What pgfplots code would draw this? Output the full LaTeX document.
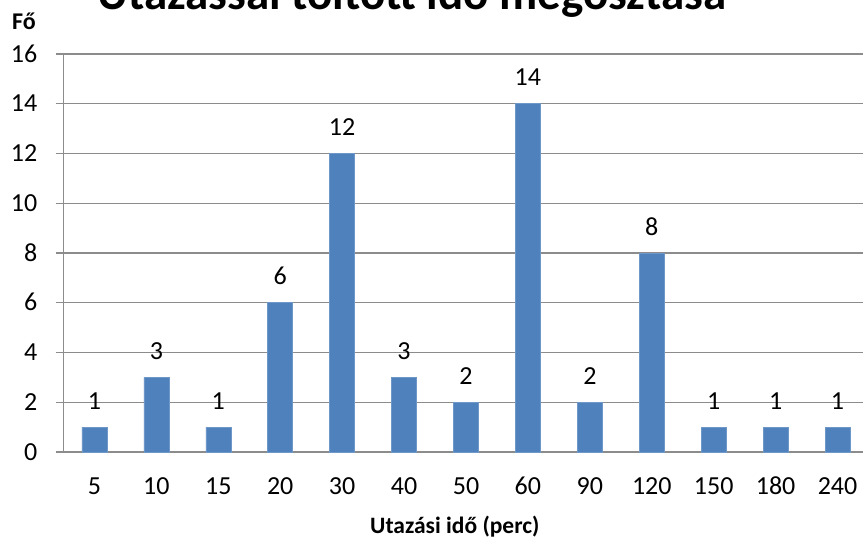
\documentclass[border=0pt]{standalone}
\usepackage{pgfplots}
\pgfplotsset{compat=1.18}
\usepackage{fontspec}
\setmainfont{Carlito}
\definecolor{barblue}{HTML}{4F81BD}
\definecolor{baredge}{HTML}{6F97C8}
\definecolor{gridgray}{HTML}{8C8C8C}
\begin{document}
\begin{tikzpicture}[x=1pt,y=1pt]
\useasboundingbox (0,0) rectangle (863,539);
\clip (0,0) rectangle (863,539);
\node[anchor=base, font=\fontsize{47}{50}\selectfont\bfseries, inner sep=0pt] at (412,529) {Utazással töltött idő megosztása};
\node[anchor=base west, font=\fontsize{24}{26}\selectfont\bfseries, inner sep=0pt] at (12,509) {Fő};
\node[anchor=base west, font=\fontsize{23.5}{26}\selectfont\bfseries, inner sep=0pt] at (370,6) {Utazási idő (perc)};
\begin{axis}[
  at={(63.5pt,87pt)}, anchor=south west,
  scale only axis, width=805pt, height=398pt,
  ybar, bar width=25pt, bar shift=0pt,
  xmin=-0.5, xmax=12.5, ymin=0, ymax=16,
  xtick={0,...,12},
  xticklabels={5,10,15,20,30,40,50,60,90,120,150,180,240},
  minor xtick={-0.5,0.5,...,12.5},
  ytick={0,2,...,16},
  ymajorgrids,
  grid style={gridgray, line width=1.3pt},
  axis x line*=bottom, axis y line*=left,
  axis line style={gridgray, line width=1.3pt, -},
  tick align=outside,
  major tick length=8pt, minor tick length=8pt,
  xtick style={draw=none},
  minor x tick style={gridgray, line width=1.3pt},
  ytick style={gridgray, line width=1.3pt},
  /pgf/number format/assume math mode=true,
  tick label style={font=\fontsize{26}{28}\selectfont, inner sep=0pt},
  xticklabel style={anchor=base, yshift=-34pt},
  yticklabel style={anchor=base east, xshift=-18pt, yshift=-8pt},
  nodes near coords,
  every node near coord/.append style={font=\fontsize{26}{28}\selectfont, anchor=base, inner sep=0pt, yshift=18pt, black},
  clip=false,
]
\addplot[fill=barblue, draw=baredge, line width=0.6pt] coordinates {
(0,1) (1,3) (2,1) (3,6) (4,12) (5,3) (6,2) (7,14) (8,2) (9,8) (10,1) (11,1) (12,1)};
\end{axis}
\end{tikzpicture}
\end{document}
